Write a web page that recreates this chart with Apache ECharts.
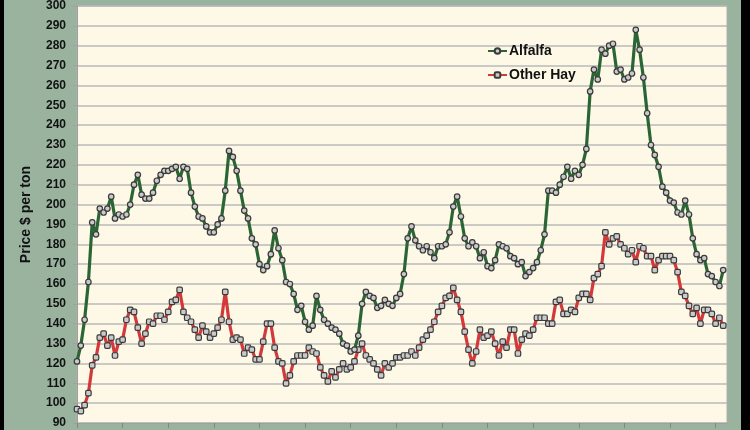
<!DOCTYPE html>
<html>
<head>
<meta charset="utf-8">
<script src="https://cdn.jsdelivr.net/npm/echarts@6/dist/echarts.min.js"></script>
<style>
html,body{margin:0;padding:0;background:#9ab39f;}
#c{width:750px;height:430px;}
</style>
</head>
<body>
<div id="c"></div>
<script>
const alfalfa = [121,129,142,161,191,185,198,196,198,204,193,195,194,195,200,210,215,205,203,203,206,212,215,217,217,218,219,213,219,218,206,199,194,193,189,186,186,190,193,207,227,224,217,207,197,193,183,180,170,167,169,175,187,178,172,161,160,155,147,149,141,137,139,154,147,142,140,138,137,135,130,129,126,127,134,150,156,154,153,148,149,152,150,149,153,155,165,183,189,182,179,177,179,176,173,179,179,180,186,199,204,194,183,179,181,179,173,176,169,168,172,180,179,178,174,173,170,171,164,166,168,171,177,185,207,207,206,210,214,219,213,217,215,220,228,257,268,263,278,276,280,281,267,268,263,264,266,288,278,264,246,230,225,219,209,206,202,201,196,195,202,195,183,175,172,173,165,164,161,159,167];
const otherHay = [97,96,99,105,119,123,133,135,129,133,124,131,132,142,147,146,138,130,135,141,140,144,144,142,146,151,152,157,146,143,141,137,133,139,136,133,135,138,142,156,141,132,133,132,125,128,127,122,122,131,140,140,128,121,120,110,114,121,124,124,124,128,126,125,118,114,111,116,113,117,120,117,118,121,127,130,124,122,120,117,114,120,118,120,123,123,124,124,126,124,128,132,134,137,141,146,149,153,154,158,152,146,136,127,120,126,137,133,134,136,130,124,131,128,137,137,125,132,135,134,137,143,143,143,140,140,151,152,145,145,147,146,153,155,155,152,163,165,169,186,180,183,184,180,178,175,177,171,179,178,174,174,167,172,174,174,174,172,166,156,154,149,145,148,140,147,147,145,140,143,139];
const seriesNames = ['Alfalfa', 'Other Hay'];
const yTicks = {min: 90, max: 300, step: 10};
const axisTitle = 'Price $ per ton';
// month slots along the x axis (one extra empty slot at the end)
const months = [];
for (let i = 0; i < 172; i++) months.push(String(i));

const chart = echarts.init(document.getElementById('c'), null, {renderer: 'canvas'});
chart.setOption({
  animation: false,
  backgroundColor: '#9ab39f',
  textStyle: {fontFamily: 'Liberation Sans, Arial, sans-serif'},
  graphic: [
    {type: 'rect', left: 0, top: 0, shape: {width: 4, height: 430}, style: {fill: '#000'}, z: 100},
    {type: 'rect', left: 741, top: 0, shape: {width: 9, height: 430}, style: {fill: '#000'}, z: 100}
  ],
  grid: {
    left: 77, right: 23, top: 1, bottom: 7,
    show: true, backgroundColor: '#fdf9e6', borderColor: '#b0b0b0', borderWidth: 1
  },
  legend: {
    orient: 'vertical', left: 482, top: 39,
    itemWidth: 19, itemHeight: 7, itemGap: 10,
    data: seriesNames,
    textStyle: {fontSize: 14, fontWeight: 'bold', color: '#111', lineHeight: 14, padding: [0,0,0,-3]}
  },
  xAxis: {
    type: 'category', data: months, boundaryGap: false,
    axisLine: {lineStyle: {color: '#a0a0a0', width: 1}},
    axisTick: {show: true, length: 5, interval: function (i) { return i % 12 === 0; }, lineStyle: {color: '#7a8a7c'}},
    axisLabel: {show: false},
    splitLine: {show: false}
  },
  yAxis: {
    type: 'value', min: yTicks.min, max: yTicks.max, interval: yTicks.step,
    name: axisTitle, nameLocation: 'middle', nameGap: 44, nameRotate: 90,
    nameTextStyle: {fontSize: 14, fontWeight: 'bold', color: '#111'},
    axisLine: {show: true, lineStyle: {color: '#a0a0a0'}},
    axisTick: {show: true, length: 4, lineStyle: {color: '#a0a0a0'}},
    axisLabel: {fontSize: 12, fontWeight: 'bold', color: '#111', margin: 11},
    splitLine: {lineStyle: {color: '#b9b9b9', width: 1.5}}
  },
  series: [
    {
      name: seriesNames[0], type: 'line', data: alfalfa,
      symbol: 'circle', symbolSize: 5.5, showAllSymbol: true,
      lineStyle: {color: '#2b6535', width: 3.2},
      itemStyle: {color: '#cacaca', borderColor: '#3a3a3a', borderWidth: 1.2},
      emphasis: {disabled: true}, z: 3
    },
    {
      name: seriesNames[1], type: 'line', data: otherHay,
      symbol: 'roundRect', symbolSize: 5.5, showAllSymbol: true,
      lineStyle: {color: '#d3393b', width: 3.2},
      itemStyle: {color: '#cacaca', borderColor: '#3a3a3a', borderWidth: 1.2},
      emphasis: {disabled: true}, z: 2
    }
  ]
});
</script>
</body>
</html>
